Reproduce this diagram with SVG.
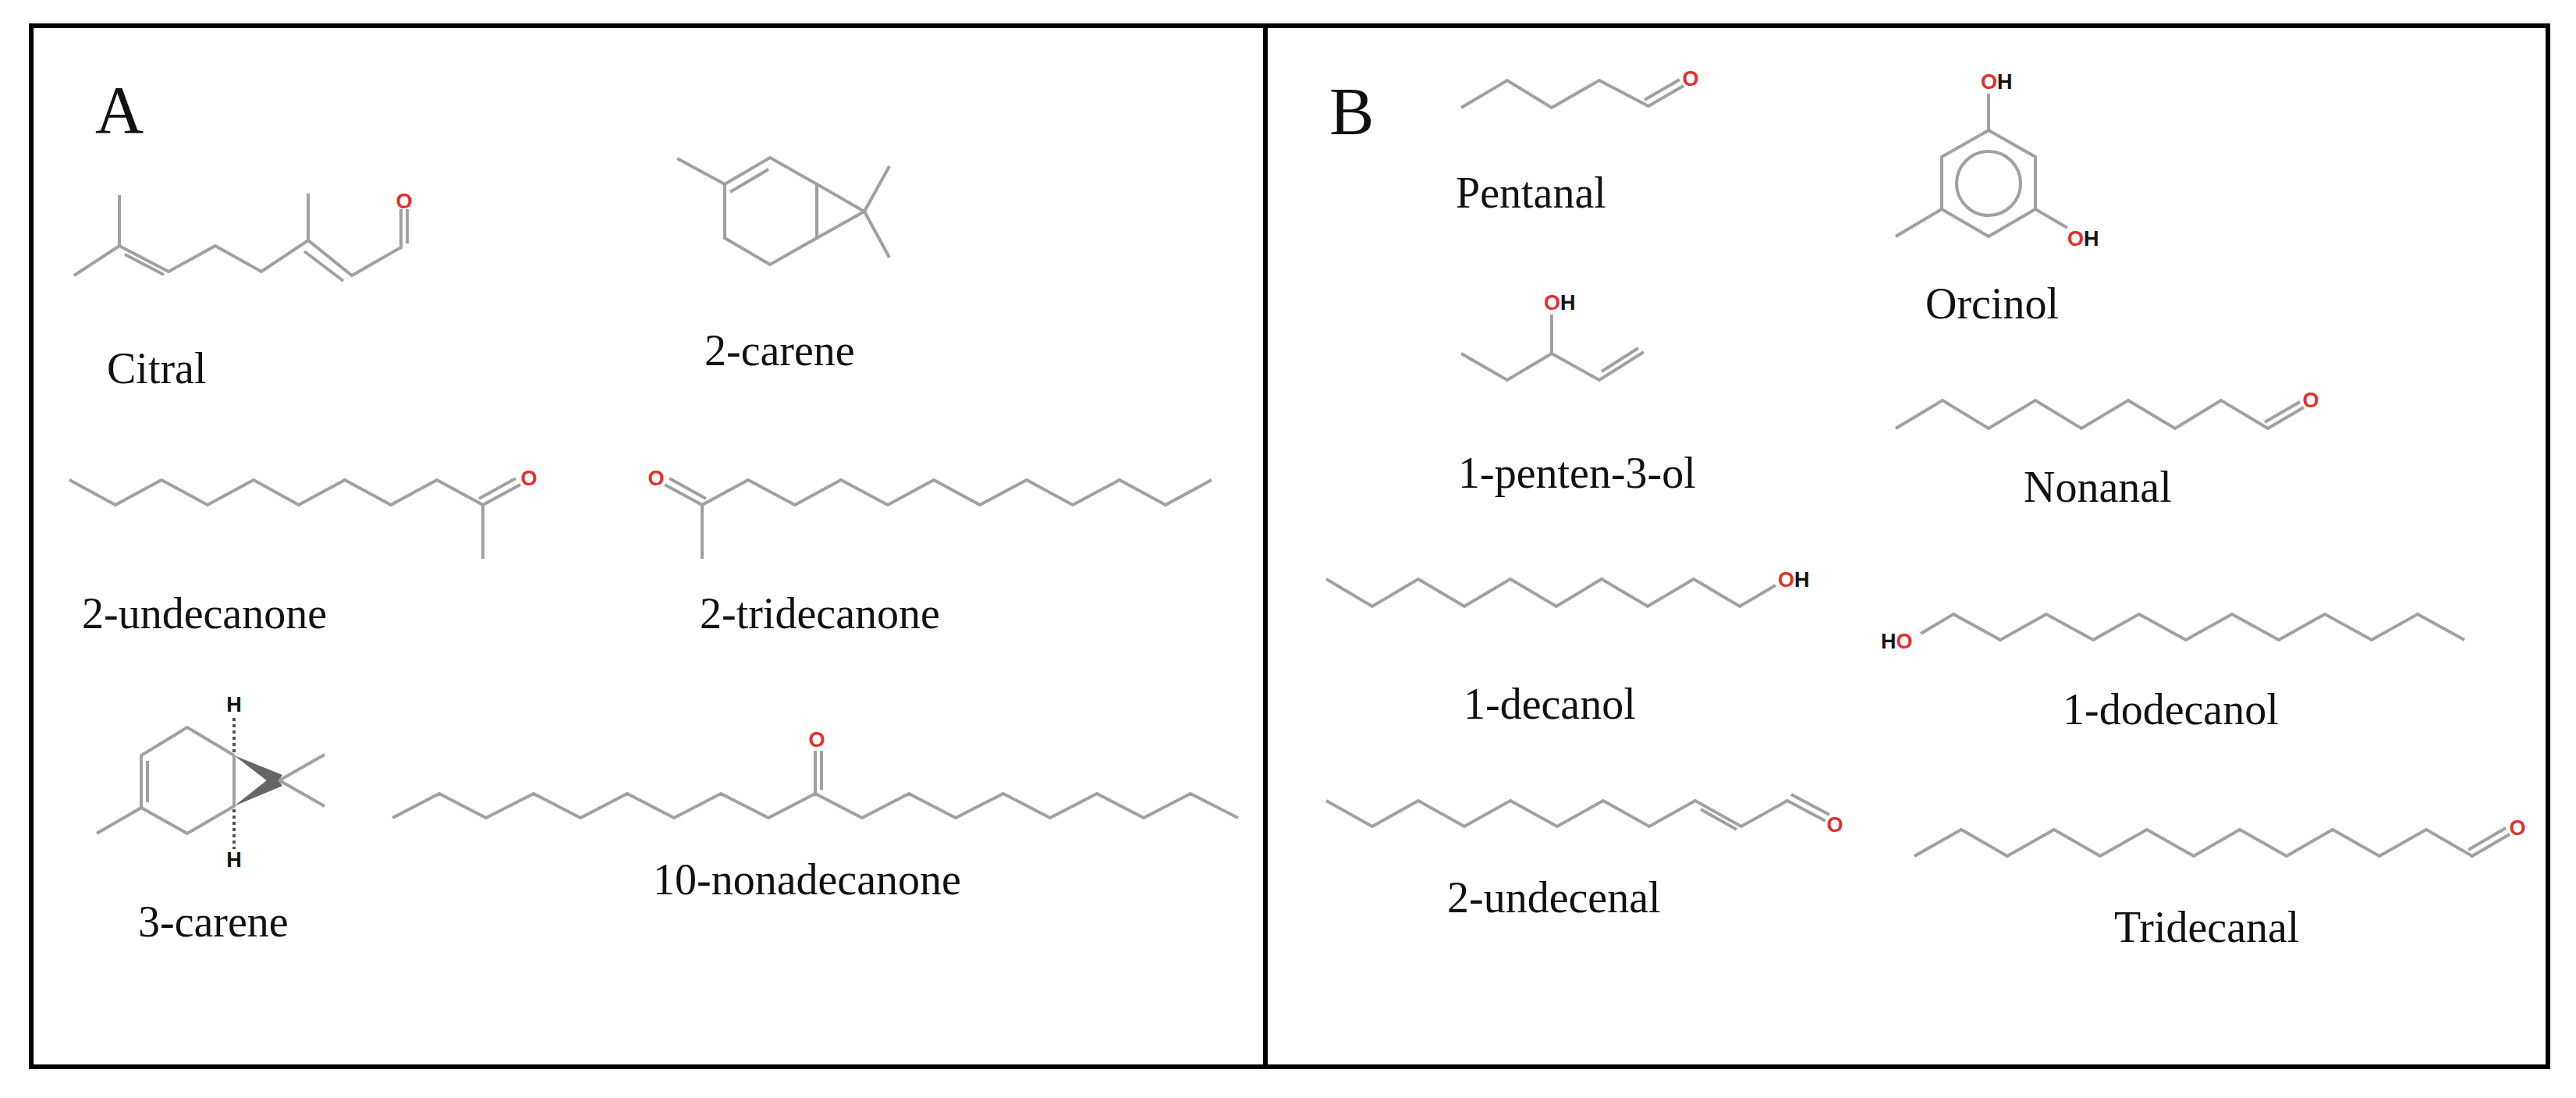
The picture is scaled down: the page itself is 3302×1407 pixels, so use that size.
<svg xmlns="http://www.w3.org/2000/svg" width="3302" height="1407" viewBox="0 0 3302 1407">
<style>
.b{fill:none;stroke:#a0a0a0;stroke-width:4;stroke-linejoin:miter;stroke-linecap:butt}
.lbl{font-family:"Liberation Serif","Times New Roman",serif;font-size:56px;fill:#111}
.pl{font-family:"Liberation Serif","Times New Roman",serif;font-size:86px;fill:#111}
.at{font-family:"Liberation Sans",Arial,sans-serif;font-weight:bold;font-size:27px;fill:#111}
.o{fill:#e03030}
.hx{stroke:#555;stroke-width:4;stroke-dasharray:4 4}
</style>
<rect width="3302" height="1407" fill="#fff"/>
<g id="frame" fill="none" stroke="#000" stroke-width="6">
<rect x="40" y="33" width="3226" height="1334"/>
<line x1="1622" y1="33" x2="1622" y2="1367"/>
</g>
<text class="pl" x="122" y="170">A</text>
<text class="pl" x="1704" y="172">B</text>
<g id="connectors"></g>

<g id="citral">
<polyline class="b" points="95,353 153,315 216,348 276,315 335,348 395,308 451,353 514,317 514,268"/>
<line class="b" x1="153" y1="315" x2="153" y2="250"/>
<line class="b" x1="395" y1="308" x2="395" y2="248"/>
<line class="b" x1="160" y1="326" x2="210" y2="352"/>
<line class="b" x1="390" y1="322" x2="440" y2="360"/>
<line class="b" x1="522" y1="312" x2="522" y2="268"/>
<text class="at o" x="518" y="258" text-anchor="middle" dominant-baseline="central">O</text>
<text class="lbl" x="137" y="491">Citral</text>
</g>

<g id="carene2">
<polyline class="b" points="868,203 929,236 987,202 1047,236 1047,305 987,339 929,305 929,236"/>
<line class="b" x1="936" y1="246" x2="985" y2="217"/>
<polyline class="b" points="1047,236 1108,271 1047,305"/>
<line class="b" x1="1108" y1="271" x2="1140" y2="213"/>
<line class="b" x1="1108" y1="271" x2="1140" y2="330"/>
<text class="lbl" x="903" y="468">2-carene</text>
</g>

<g id="undecanone2">
<polyline class="b" points="89,615 148,647 207,615 266,647 325,615 383,647 442,615 501,647 560,615 619,647 619,716"/>
<line class="b" x1="619" y1="647" x2="667" y2="621"/>
<line class="b" x1="614" y1="639" x2="661" y2="613"/>
<text class="at o" x="678" y="613" text-anchor="middle" dominant-baseline="central">O</text>
<text class="lbl" x="105" y="805">2-undecanone</text>
</g>

<g id="tridecanone2">
<polyline class="b" points="900,716 900,647 959,615 1019,647 1078,615 1138,647 1197,615 1256,647 1316,615 1375,647 1435,615 1494,647 1553,615"/>
<line class="b" x1="900" y1="647" x2="852" y2="621"/>
<line class="b" x1="905" y1="639" x2="858" y2="613"/>
<text class="at o" x="841" y="613" text-anchor="middle" dominant-baseline="central">O</text>
<text class="lbl" x="897" y="805">2-tridecanone</text>
</g>

<g id="carene3">
<polyline class="b" points="300,968 240,932 181,968 181,1035 240,1068 300,1033 300,968"/>
<line class="b" x1="189" y1="975" x2="189" y2="1028"/>
<line class="b" x1="181" y1="1035" x2="124" y2="1068"/>
<polygon points="300,968 362,993 352,1008" fill="#666"/>
<polygon points="300,1033 352,992 362,1007" fill="#666"/>
<line class="b" x1="358" y1="1000" x2="416" y2="967"/>
<line class="b" x1="358" y1="1000" x2="416" y2="1033"/>
<line class="hx" x1="300" y1="964" x2="300" y2="917"/>
<line class="hx" x1="300" y1="1037" x2="300" y2="1088"/>
<text class="at" x="300" y="903" text-anchor="middle" dominant-baseline="central">H</text>
<text class="at" x="300" y="1102" text-anchor="middle" dominant-baseline="central">H</text>
<text class="lbl" x="177" y="1200">3-carene</text>
</g>

<g id="nonadecanone10">
<polyline class="b" points="503,1048 563,1017 623,1048 684,1017 744,1048 804,1017 864,1048 924,1017 985,1048 1045,1017 1105,1048 1165,1017 1225,1048 1286,1017 1346,1048 1406,1017 1466,1048 1526,1017 1587,1048"/>
<line class="b" x1="1045" y1="1017" x2="1045" y2="962"/>
<line class="b" x1="1053" y1="1012" x2="1053" y2="962"/>
<text class="at o" x="1047" y="948" text-anchor="middle" dominant-baseline="central">O</text>
<text class="lbl" x="837" y="1146">10-nonadecanone</text>
</g>

<g id="pentanal">
<polyline class="b" points="1873,138 1932,103 1989,138 2050,103 2113,136 2158,110"/>
<line class="b" x1="2108" y1="128" x2="2153" y2="102"/>
<text class="at o" x="2167" y="101" text-anchor="middle" dominant-baseline="central">O</text>
<text class="lbl" x="1866" y="266">Pentanal</text>
</g>

<g id="orcinol">
<polygon class="b" points="2549,167 2609,201 2609,268 2549,303 2489,268 2489,201"/>
<circle class="b" cx="2549" cy="235" r="41"/>
<line class="b" x1="2549" y1="167" x2="2549" y2="120"/>
<line class="b" x1="2489" y1="268" x2="2430" y2="303"/>
<line class="b" x1="2609" y1="268" x2="2650" y2="292"/>
<text class="at" x="2539" y="105" dominant-baseline="central"><tspan class="o">O</tspan>H</text>
<text class="at" x="2650" y="306" dominant-baseline="central"><tspan class="o">O</tspan>H</text>
<text class="lbl" x="2468" y="408">Orcinol</text>
</g>

<g id="pentenol">
<polyline class="b" points="1873,453 1932,487 1989,453 2050,487 2107,451"/>
<line class="b" x1="2053" y1="476" x2="2100" y2="446"/>
<line class="b" x1="1989" y1="453" x2="1989" y2="403"/>
<text class="at" x="1979" y="388" dominant-baseline="central"><tspan class="o">O</tspan>H</text>
<text class="lbl" x="1869" y="625">1-penten-3-ol</text>
</g>

<g id="nonanal">
<polyline class="b" points="2430,549 2490,513 2549,549 2609,513 2668,549 2728,513 2788,549 2847,513 2907,549 2953,522"/>
<line class="b" x1="2903" y1="541" x2="2948" y2="515"/>
<text class="at o" x="2962" y="513" text-anchor="middle" dominant-baseline="central">O</text>
<text class="lbl" x="2594" y="643">Nonanal</text>
</g>

<g id="decanol">
<polyline class="b" points="1700,742 1759,777 1818,742 1877,777 1936,742 1995,777 2053,742 2112,777 2171,742 2230,777 2276,750"/>
<text class="at" x="2279" y="743" dominant-baseline="central"><tspan class="o">O</tspan>H</text>
<text class="lbl" x="1876" y="921">1-decanol</text>
</g>

<g id="dodecanol">
<polyline class="b" points="2462,812 2504,787 2564,820 2623,787 2683,820 2742,787 2802,820 2861,787 2921,820 2980,787 3040,820 3099,787 3159,820"/>
<text class="at" x="2411" y="822" dominant-baseline="central">H<tspan class="o">O</tspan></text>
<text class="lbl" x="2644" y="928">1-dodecanol</text>
</g>

<g id="undecenal">
<polyline class="b" points="1700,1026 1759,1059 1818,1026 1877,1059 1936,1026 1996,1059 2055,1026 2114,1059 2173,1026 2232,1059 2291,1026 2340,1052"/>
<line class="b" x1="2180" y1="1037" x2="2226" y2="1063"/>
<line class="b" x1="2296" y1="1018" x2="2345" y2="1044"/>
<text class="at o" x="2352" y="1057" text-anchor="middle" dominant-baseline="central">O</text>
<text class="lbl" x="1855" y="1169">2-undecenal</text>
</g>

<g id="tridecanal">
<polyline class="b" points="2454,1097 2514,1063 2573,1097 2633,1063 2692,1097 2752,1063 2812,1097 2871,1063 2931,1097 2990,1063 3050,1097 3110,1063 3169,1097 3217,1069"/>
<line class="b" x1="3164" y1="1089" x2="3212" y2="1061"/>
<text class="at o" x="3227" y="1061" text-anchor="middle" dominant-baseline="central">O</text>
<text class="lbl" x="2710" y="1207">Tridecanal</text>
</g>
</svg>
